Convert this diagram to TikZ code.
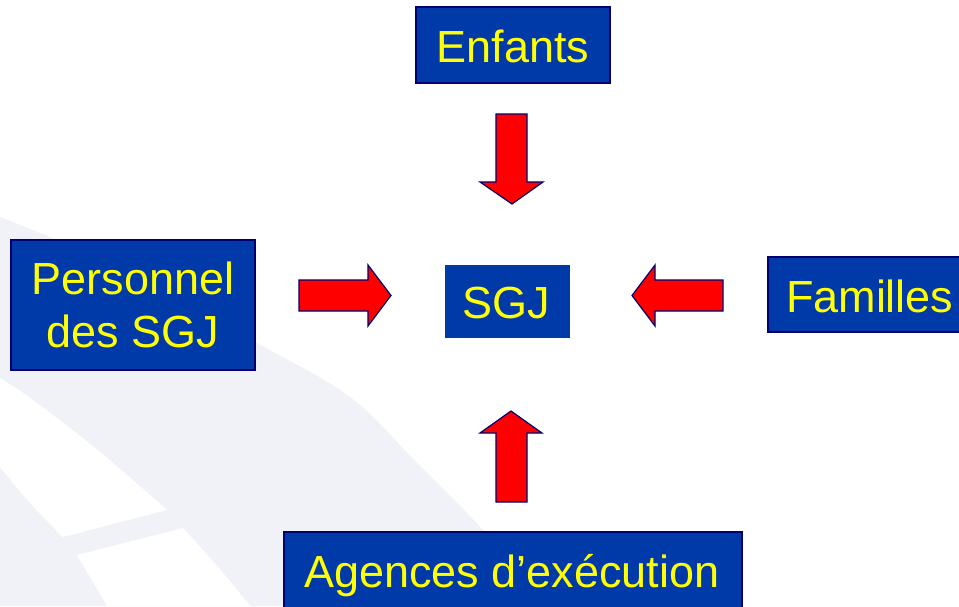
\documentclass[tikz,border=0pt]{standalone}
\usepackage{fontspec}
\setmainfont{Liberation Sans}
\definecolor{boxblue}{RGB}{0,57,168}
\definecolor{navyline}{RGB}{0,0,110}
\definecolor{txtyellow}{RGB}{255,255,0}
\definecolor{arrowred}{RGB}{255,0,0}
\definecolor{swoosh}{RGB}{240,242,248}
\tikzset{
  box/.style={fill=boxblue, draw=navyline, line width=1.2pt, inner sep=0pt, outer sep=0pt},
  plainbox/.style={fill=boxblue, draw=none, inner sep=0pt, outer sep=0pt},
  label text/.style={text=txtyellow, inner sep=0pt, outer sep=0pt, font=\fontsize{45}{53}\selectfont},
  blockarrow/.style={fill=arrowred, draw=navyline, line width=1.2pt, line join=miter},
}
\begin{document}
\begin{tikzpicture}[x=1pt, y=-1pt]
\useasboundingbox (0,0) rectangle (959,606);
% background swooshes
\fill[swoosh] plot[smooth, tension=0.6] coordinates {(0,217) (130,272) (257,343) (350,397) (417,463) (483,530) (548,606)} -- (0,606) -- cycle;
\fill[white] plot[smooth, tension=0.6] coordinates {(0,378) (33,400) (100,452) (167,510)} -- (63,537) -- plot[smooth, tension=0.6] coordinates {(63,537) (30,503) (0,467)} -- cycle;
\fill[white] (77,555) -- (183,528) -- plot[smooth, tension=0.6] coordinates {(183,528) (218,567) (250,606)} -- (107,606) -- cycle;
% boxes
\node[box, minimum width=194pt, minimum height=76pt] (enfants) at (513,45) {};
\node[box, minimum width=244pt, minimum height=130pt] (personnel) at (133,305) {};
\node[plainbox, minimum width=125pt, minimum height=73pt] (sgj) at (507.5,301.5) {};
\node[box, minimum width=212pt, minimum height=75pt] (familles) at (874,294.5) {};
\node[box, minimum width=458pt, minimum height=76pt] (agences) at (513,570) {};
% texts
\node[label text, anchor=base] (tenfants) at (513,62) {Enfants};
\node[label text, anchor=base, align=center] (tpersonnel) at (133,347) {Personnel\\des SGJ};
\node[label text, anchor=base] (tsgj) at (506,318) {SGJ};
\node[label text, anchor=base west] (tfamilles) at (786,312) {Familles};
\node[label text, anchor=base] (tagences) at (512,587) {Agences d’exécution};
% block arrows
\draw[blockarrow] (496,114) -- (527,114) -- (527,182) -- (543,182) -- (512,204) -- (480,182) -- (496,182) -- cycle;
\draw[blockarrow] (496,502) -- (527,502) -- (527,433) -- (542,433) -- (511,411) -- (480,433) -- (496,433) -- cycle;
\draw[blockarrow] (299,280) -- (368,280) -- (368,265) -- (391,295.5) -- (368,326) -- (368,311) -- (299,311) -- cycle;
\draw[blockarrow] (723,280) -- (655,280) -- (655,265) -- (632,295.5) -- (655,326) -- (655,311) -- (723,311) -- cycle;
\end{tikzpicture}
\end{document}
